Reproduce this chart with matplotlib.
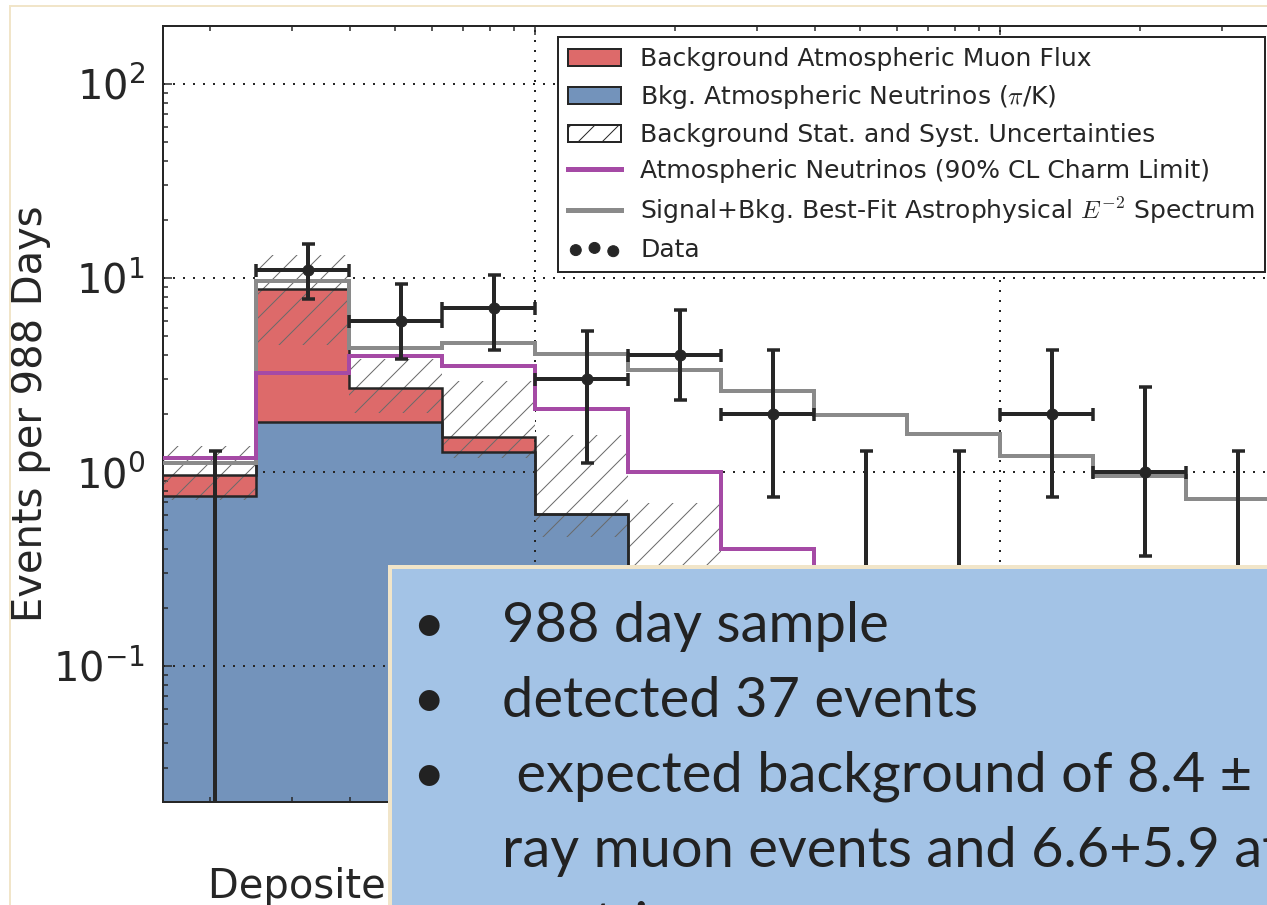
import numpy as np
import matplotlib.pyplot as plt
from matplotlib.patches import Patch, Rectangle
from matplotlib.lines import Line2D

W, H, DPI = 1267, 905, 72

plt.rcParams['mathtext.fontset'] = 'cm'
plt.rcParams['hatch.linewidth'] = 1.0
plt.rcParams['axes.unicode_minus'] = False

# energy bins, log10(E / TeV)
log_edges = np.array([1.2, 1.4, 1.6, 1.8, 2.0, 2.2, 2.4, 2.6, 2.8, 3.0, 3.2, 3.4, 3.6])

# background expectation per bin
atm_nu = np.array([0.75, 1.82, 1.80, 1.27, 0.61, 0.25, 0.12, 0.06, 0.035, 0.02, 0.012, 0.008])
atm_mu = np.array([0.215, 6.95, 0.90, 0.25, 0.0, 0.0, 0.0, 0.0, 0.0, 0.0, 0.0, 0.0])
unc_lo = np.array([0.72, 4.53, 2.02, 1.18, 0.46, 0.18, 0.08, 0.04, 0.025, 0.012, 0.008, 0.005])
unc_hi = np.array([1.36, 13.2, 3.82, 2.93, 1.55, 0.69, 0.30, 0.15, 0.08, 0.05, 0.03, 0.02])

# model curves
charm_limit = np.array([1.18, 3.23, 3.94, 3.53, 2.12, 1.0, 0.40, 0.16, 0.07, 0.03, 0.015, 0.008])
best_fit = np.array([1.11, 9.6, 4.35, 4.62, 4.06, 3.36, 2.60, 1.97, 1.57, 1.21, 0.95, 0.73])

# observed events with 68% intervals
point_logE = np.array([1.312, 1.512, 1.712, 1.912, 2.112, 2.312, 2.512, 2.712, 2.912, 3.112, 3.312, 3.512])
counts = np.array([0, 11, 6, 7, 3, 4, 2, 0, 0, 2, 1, 0])
ci_lo = np.array([0, 7.8, 3.82, 4.26, 1.11, 2.35, 0.74, 0, 0, 0.745, 0.37, 0])
ci_hi = np.array([1.29, 14.9, 9.34, 10.3, 5.30, 6.8, 4.26, 1.29, 1.29, 4.25, 2.75, 1.29])

bullets = ["988 day sample",
           "detected 37 events",
           " expected background of 8.4 \u00b1 4.2 cosmic",
           "ray muon events and 6.6+5.9 atmospheric",
           "neutrinos"]

dark = '#262626'
red = '#dd6a6a'
blue = '#7393bb'
magenta = '#a54aa5'
grey = '#8a8a8a'
cream = '#f1e5c9'

edges = 10 ** log_edges
x_pts = 10 ** point_logE
floor = 1e-3

fig = plt.figure(figsize=(W / DPI, H / DPI), dpi=DPI)
fig.patch.set_facecolor('white')
ax = fig.add_axes([163 / W, (H - 801.7) / H, (1279 - 163) / W, (801.7 - 25.5) / H])
ax.set_xscale('log')
ax.set_yscale('log')

# stacked background
stack_top = atm_nu + atm_mu
ax.stairs(atm_nu, edges, baseline=floor, fill=True, color=blue, lw=0, zorder=1)
ax.stairs(stack_top, edges, baseline=atm_nu, fill=True, color=red, lw=0, zorder=1)

# uncertainty band: white where it sits above the stack, hatched everywhere
ax.stairs(unc_hi, edges, baseline=np.maximum(unc_lo, stack_top), fill=True,
          color='white', lw=0, zorder=2)
ax.stairs(unc_hi, edges, baseline=unc_lo, fill=True, facecolor='none',
          edgecolor='#6a6a6a', lw=0, hatch='/', zorder=2.2)

ax.stairs(atm_nu, edges, baseline=None, color=dark, lw=2.5, zorder=3)
ax.stairs(stack_top, edges, baseline=None, color=dark, lw=2.5, zorder=3)

ax.stairs(best_fit, edges, baseline=None, color=grey, lw=4, zorder=3.9)
ax.stairs(charm_limit, edges, baseline=None, color=magenta, lw=4, zorder=4)

# data
seen = counts > 0
xs = x_pts[seen]
ys = counts[seen].astype(float)
ax.errorbar(xs, ys,
            xerr=[xs - edges[:-1][seen], edges[1:][seen] - xs],
            yerr=[ys - ci_lo[seen], ci_hi[seen] - ys],
            fmt='none', ecolor=dark, elinewidth=4, capsize=6.5, capthick=3.5, zorder=5)
empty = ~seen
ax.errorbar(x_pts[empty], np.full(empty.sum(), floor),
            yerr=[np.zeros(empty.sum()), ci_hi[empty] - floor],
            fmt='none', ecolor=dark, elinewidth=4, capsize=6.5, capthick=3.5, zorder=5)
pts = ax.scatter(xs, ys, s=120, color=dark, zorder=6, label='Data')

ax.set_xlim(10 ** 1.2, 10 ** 3.6)
ax.set_ylim(0.02, 200)

ax.set_axisbelow('line')
ax.grid(True, which='major', color=dark, linestyle=(0, (1, 4)), linewidth=2)
ax.tick_params(which='both', direction='in', top=True, right=True, width=1.5,
               color=dark, labelcolor=dark, labelsize=40, pad=18)
ax.tick_params(which='major', length=9)
ax.tick_params(which='minor', length=5)
for sp in ax.spines.values():
    sp.set_color(dark)
    sp.set_linewidth(2)

ax.set_ylabel('Events per 988 Days', fontsize=40, color=dark, va='center')
ax.yaxis.set_label_coords((31 - 163) / (1279 - 163), 0.5)
ax.set_xlabel('Deposited EM-Equivalent Energy in Detector (TeV)', fontsize=40,
              color=dark, ha='left', va='baseline')
ax.xaxis.set_label_coords((208 - 163) / (1279 - 163), -(898 - 801.7) / (801.7 - 25.5))

handles = [Patch(facecolor=red, edgecolor=dark, lw=2),
           Patch(facecolor=blue, edgecolor=dark, lw=2),
           Patch(facecolor='white', edgecolor=dark, lw=2, hatch='/'),
           Line2D([], [], color=magenta, lw=5),
           Line2D([], [], color=grey, lw=5),
           pts]
labels = ['Background Atmospheric Muon Flux',
          r'Bkg. Atmospheric Neutrinos ($\pi$/K)',
          'Background Stat. and Syst. Uncertainties',
          'Atmospheric Neutrinos (90% CL Charm Limit)',
          r'Signal+Bkg. Best-Fit Astrophysical $E^{-2}$ Spectrum',
          'Data']
leg = ax.legend(handles, labels, loc='upper right',
                bbox_to_anchor=(1265 / W, 1 - 37 / H), bbox_transform=fig.transFigure,
                borderaxespad=0, fontsize=25, fancybox=False, framealpha=1,
                edgecolor=dark, labelspacing=0.48, handlelength=2.1,
                handletextpad=0.78, borderpad=0.4, scatterpoints=3)
leg.get_frame().set_linewidth(2)
for t in leg.get_texts():
    t.set_color(dark)

# slide frame and text box on top of the plot
fig.add_artist(Line2D([10 / W, 10 / W], [0, 1 - 6 / H], transform=fig.transFigure,
                      color=cream, lw=2))
fig.add_artist(Line2D([10 / W, 1], [1 - 6 / H, 1 - 6 / H], transform=fig.transFigure,
                      color=cream, lw=2))
box = Rectangle((390 / W, -0.02), 1, (H - 567) / H + 0.02, transform=fig.transFigure,
                facecolor='#a3c3e6', edgecolor=cream, lw=4, zorder=10)
fig.add_artist(box)
for i, line in enumerate(bullets):
    base = 1 - (641.7 + 75 * i) / H
    if i < 3:
        fig.text(428 / W, base, '\u2022', fontsize=56, family='Lato', color='#222222',
                 ha='center', va='baseline', zorder=11)
    fig.text(502 / W, base, line, fontsize=56, family='Lato', color='#222222',
             va='baseline', zorder=11)

fig.savefig('out.png', dpi=DPI)
